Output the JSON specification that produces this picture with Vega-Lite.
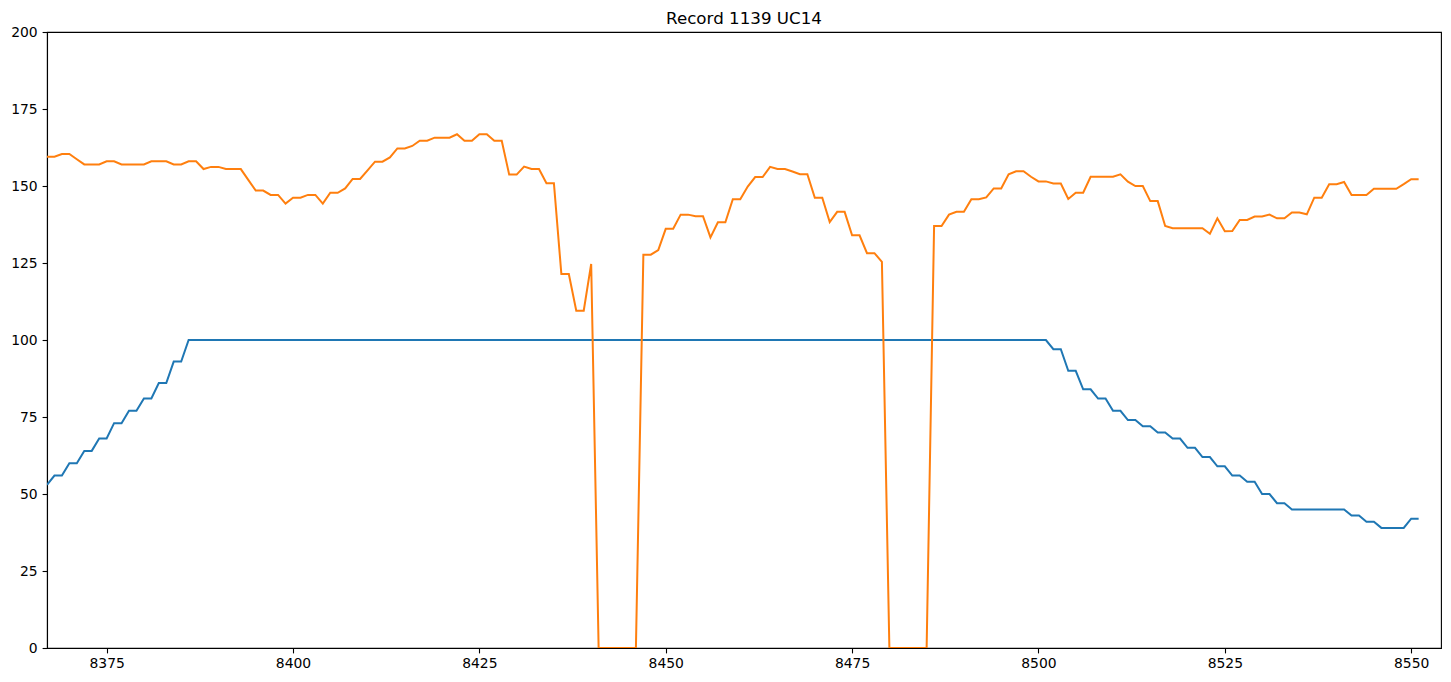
{
  "$schema": "https://vega.github.io/schema/vega-lite/v6.json",
  "width": 1394,
  "height": 616,
  "autosize": {"type": "none"},
  "padding": {"left": 47, "top": 32, "right": 10, "bottom": 34},
  "background": "white",
  "title": {
    "text": "Record 1139 UC14",
    "font": "DejaVu Sans",
    "fontSize": 16.7,
    "fontWeight": "normal",
    "color": "black",
    "anchor": "middle",
    "offset": -2.3
  },
  "config": {
    "view": {"stroke": "black", "strokeWidth": 1.1},
    "axis": {
      "grid": false,
      "domainColor": "black",
      "domainWidth": 1.1,
      "tickColor": "black",
      "tickWidth": 1.1,
      "tickSize": 4.9,
      "labelFont": "DejaVu Sans",
      "labelFontSize": 13.9,
      "labelColor": "black",
      "title": null
    }
  },
  "data": {
    "values": [
      {"x": 8367, "a": 53, "b": 159.5},
      {"x": 8368, "a": 56, "b": 159.5},
      {"x": 8369, "a": 56, "b": 160.4},
      {"x": 8370, "a": 60, "b": 160.4},
      {"x": 8371, "a": 60, "b": 158.7},
      {"x": 8372, "a": 64, "b": 157},
      {"x": 8373, "a": 64, "b": 157},
      {"x": 8374, "a": 68, "b": 157},
      {"x": 8375, "a": 68, "b": 158},
      {"x": 8376, "a": 73, "b": 158},
      {"x": 8377, "a": 73, "b": 157},
      {"x": 8378, "a": 77, "b": 157},
      {"x": 8379, "a": 77, "b": 157},
      {"x": 8380, "a": 81, "b": 157},
      {"x": 8381, "a": 81, "b": 158},
      {"x": 8382, "a": 86, "b": 158},
      {"x": 8383, "a": 86, "b": 158},
      {"x": 8384, "a": 93, "b": 157},
      {"x": 8385, "a": 93, "b": 157},
      {"x": 8386, "a": 100, "b": 158},
      {"x": 8387, "a": 100, "b": 158},
      {"x": 8388, "a": 100, "b": 155.5},
      {"x": 8389, "a": 100, "b": 156.2},
      {"x": 8390, "a": 100, "b": 156.2},
      {"x": 8391, "a": 100, "b": 155.5},
      {"x": 8392, "a": 100, "b": 155.5},
      {"x": 8393, "a": 100, "b": 155.5},
      {"x": 8394, "a": 100, "b": 152},
      {"x": 8395, "a": 100, "b": 148.5},
      {"x": 8396, "a": 100, "b": 148.5},
      {"x": 8397, "a": 100, "b": 147.1},
      {"x": 8398, "a": 100, "b": 147.1},
      {"x": 8399, "a": 100, "b": 144.3},
      {"x": 8400, "a": 100, "b": 146.2},
      {"x": 8401, "a": 100, "b": 146.2},
      {"x": 8402, "a": 100, "b": 147.1},
      {"x": 8403, "a": 100, "b": 147.1},
      {"x": 8404, "a": 100, "b": 144.3},
      {"x": 8405, "a": 100, "b": 147.8},
      {"x": 8406, "a": 100, "b": 147.8},
      {"x": 8407, "a": 100, "b": 149.2},
      {"x": 8408, "a": 100, "b": 152.3},
      {"x": 8409, "a": 100, "b": 152.3},
      {"x": 8410, "a": 100, "b": 155.1},
      {"x": 8411, "a": 100, "b": 157.9},
      {"x": 8412, "a": 100, "b": 157.9},
      {"x": 8413, "a": 100, "b": 159.3},
      {"x": 8414, "a": 100, "b": 162.2},
      {"x": 8415, "a": 100, "b": 162.2},
      {"x": 8416, "a": 100, "b": 163},
      {"x": 8417, "a": 100, "b": 164.7},
      {"x": 8418, "a": 100, "b": 164.7},
      {"x": 8419, "a": 100, "b": 165.7},
      {"x": 8420, "a": 100, "b": 165.7},
      {"x": 8421, "a": 100, "b": 165.7},
      {"x": 8422, "a": 100, "b": 166.8},
      {"x": 8423, "a": 100, "b": 164.7},
      {"x": 8424, "a": 100, "b": 164.7},
      {"x": 8425, "a": 100, "b": 166.8},
      {"x": 8426, "a": 100, "b": 166.8},
      {"x": 8427, "a": 100, "b": 164.7},
      {"x": 8428, "a": 100, "b": 164.7},
      {"x": 8429, "a": 100, "b": 153.7},
      {"x": 8430, "a": 100, "b": 153.7},
      {"x": 8431, "a": 100, "b": 156.3},
      {"x": 8432, "a": 100, "b": 155.5},
      {"x": 8433, "a": 100, "b": 155.5},
      {"x": 8434, "a": 100, "b": 150.9},
      {"x": 8435, "a": 100, "b": 150.9},
      {"x": 8436, "a": 100, "b": 121.4},
      {"x": 8437, "a": 100, "b": 121.4},
      {"x": 8438, "a": 100, "b": 109.5},
      {"x": 8439, "a": 100, "b": 109.5},
      {"x": 8440, "a": 100, "b": 124.7},
      {"x": 8441, "a": 100, "b": 0},
      {"x": 8442, "a": 100, "b": 0},
      {"x": 8443, "a": 100, "b": 0},
      {"x": 8444, "a": 100, "b": 0},
      {"x": 8445, "a": 100, "b": 0},
      {"x": 8446, "a": 100, "b": 0},
      {"x": 8447, "a": 100, "b": 127.7},
      {"x": 8448, "a": 100, "b": 127.7},
      {"x": 8449, "a": 100, "b": 129.2},
      {"x": 8450, "a": 100, "b": 136.1},
      {"x": 8451, "a": 100, "b": 136.1},
      {"x": 8452, "a": 100, "b": 140.7},
      {"x": 8453, "a": 100, "b": 140.7},
      {"x": 8454, "a": 100, "b": 140.2},
      {"x": 8455, "a": 100, "b": 140.2},
      {"x": 8456, "a": 100, "b": 133.3},
      {"x": 8457, "a": 100, "b": 138.2},
      {"x": 8458, "a": 100, "b": 138.2},
      {"x": 8459, "a": 100, "b": 145.7},
      {"x": 8460, "a": 100, "b": 145.7},
      {"x": 8461, "a": 100, "b": 149.8},
      {"x": 8462, "a": 100, "b": 152.9},
      {"x": 8463, "a": 100, "b": 152.9},
      {"x": 8464, "a": 100, "b": 156.2},
      {"x": 8465, "a": 100, "b": 155.5},
      {"x": 8466, "a": 100, "b": 155.5},
      {"x": 8467, "a": 100, "b": 154.7},
      {"x": 8468, "a": 100, "b": 153.8},
      {"x": 8469, "a": 100, "b": 153.8},
      {"x": 8470, "a": 100, "b": 146.2},
      {"x": 8471, "a": 100, "b": 146.2},
      {"x": 8472, "a": 100, "b": 138.3},
      {"x": 8473, "a": 100, "b": 141.6},
      {"x": 8474, "a": 100, "b": 141.6},
      {"x": 8475, "a": 100, "b": 134},
      {"x": 8476, "a": 100, "b": 134},
      {"x": 8477, "a": 100, "b": 128.2},
      {"x": 8478, "a": 100, "b": 128.2},
      {"x": 8479, "a": 100, "b": 125.4},
      {"x": 8480, "a": 100, "b": 0},
      {"x": 8481, "a": 100, "b": 0},
      {"x": 8482, "a": 100, "b": 0},
      {"x": 8483, "a": 100, "b": 0},
      {"x": 8484, "a": 100, "b": 0},
      {"x": 8485, "a": 100, "b": 0},
      {"x": 8486, "a": 100, "b": 137},
      {"x": 8487, "a": 100, "b": 137},
      {"x": 8488, "a": 100, "b": 140.7},
      {"x": 8489, "a": 100, "b": 141.6},
      {"x": 8490, "a": 100, "b": 141.6},
      {"x": 8491, "a": 100, "b": 145.7},
      {"x": 8492, "a": 100, "b": 145.7},
      {"x": 8493, "a": 100, "b": 146.3},
      {"x": 8494, "a": 100, "b": 149.2},
      {"x": 8495, "a": 100, "b": 149.2},
      {"x": 8496, "a": 100, "b": 153.8},
      {"x": 8497, "a": 100, "b": 154.8},
      {"x": 8498, "a": 100, "b": 154.8},
      {"x": 8499, "a": 100, "b": 153},
      {"x": 8500, "a": 100, "b": 151.5},
      {"x": 8501, "a": 100, "b": 151.5},
      {"x": 8502, "a": 97, "b": 150.8},
      {"x": 8503, "a": 97, "b": 150.8},
      {"x": 8504, "a": 90, "b": 145.8},
      {"x": 8505, "a": 90, "b": 147.8},
      {"x": 8506, "a": 84, "b": 147.8},
      {"x": 8507, "a": 84, "b": 153},
      {"x": 8508, "a": 81, "b": 153},
      {"x": 8509, "a": 81, "b": 153},
      {"x": 8510, "a": 77, "b": 153},
      {"x": 8511, "a": 77, "b": 153.8},
      {"x": 8512, "a": 74, "b": 151.4},
      {"x": 8513, "a": 74, "b": 150},
      {"x": 8514, "a": 72, "b": 150},
      {"x": 8515, "a": 72, "b": 145.1},
      {"x": 8516, "a": 70, "b": 145.1},
      {"x": 8517, "a": 70, "b": 137},
      {"x": 8518, "a": 68, "b": 136.3},
      {"x": 8519, "a": 68, "b": 136.3},
      {"x": 8520, "a": 65, "b": 136.3},
      {"x": 8521, "a": 65, "b": 136.3},
      {"x": 8522, "a": 62, "b": 136.3},
      {"x": 8523, "a": 62, "b": 134.5},
      {"x": 8524, "a": 59, "b": 139.5},
      {"x": 8525, "a": 59, "b": 135.3},
      {"x": 8526, "a": 56, "b": 135.4},
      {"x": 8527, "a": 56, "b": 139},
      {"x": 8528, "a": 54, "b": 139},
      {"x": 8529, "a": 54, "b": 140.1},
      {"x": 8530, "a": 50, "b": 140.1},
      {"x": 8531, "a": 50, "b": 140.7},
      {"x": 8532, "a": 47, "b": 139.5},
      {"x": 8533, "a": 47, "b": 139.5},
      {"x": 8534, "a": 45, "b": 141.4},
      {"x": 8535, "a": 45, "b": 141.4},
      {"x": 8536, "a": 45, "b": 140.8},
      {"x": 8537, "a": 45, "b": 146.2},
      {"x": 8538, "a": 45, "b": 146.2},
      {"x": 8539, "a": 45, "b": 150.6},
      {"x": 8540, "a": 45, "b": 150.6},
      {"x": 8541, "a": 45, "b": 151.3},
      {"x": 8542, "a": 43, "b": 147.1},
      {"x": 8543, "a": 43, "b": 147.1},
      {"x": 8544, "a": 41, "b": 147.1},
      {"x": 8545, "a": 41, "b": 149.1},
      {"x": 8546, "a": 39, "b": 149.1},
      {"x": 8547, "a": 39, "b": 149.1},
      {"x": 8548, "a": 39, "b": 149.1},
      {"x": 8549, "a": 39, "b": 150.6},
      {"x": 8550, "a": 42, "b": 152.2},
      {"x": 8551, "a": 42, "b": 152.2}
    ]
  },
  "transform": [
    {"fold": ["a", "b"], "as": ["series", "value"]}
  ],
  "mark": {"type": "line", "strokeWidth": 2, "clip": true},
  "encoding": {
    "x": {
      "field": "x",
      "type": "quantitative",
      "scale": {"domain": [8367, 8554], "nice": false, "zero": false},
      "axis": {"values": [8375, 8400, 8425, 8450, 8475, 8500, 8525, 8550], "format": "d", "labelPadding": 4, "labelFlush": false}
    },
    "y": {
      "field": "value",
      "type": "quantitative",
      "scale": {"domain": [0, 200], "nice": false},
      "axis": {"values": [0, 25, 50, 75, 100, 125, 150, 175, 200], "format": "d", "labelPadding": 4.9, "labelFlush": false}
    },
    "color": {
      "field": "series",
      "type": "nominal",
      "scale": {"domain": ["a", "b"], "range": ["#1f77b4", "#ff7f0e"]},
      "legend": null
    }
  }
}
